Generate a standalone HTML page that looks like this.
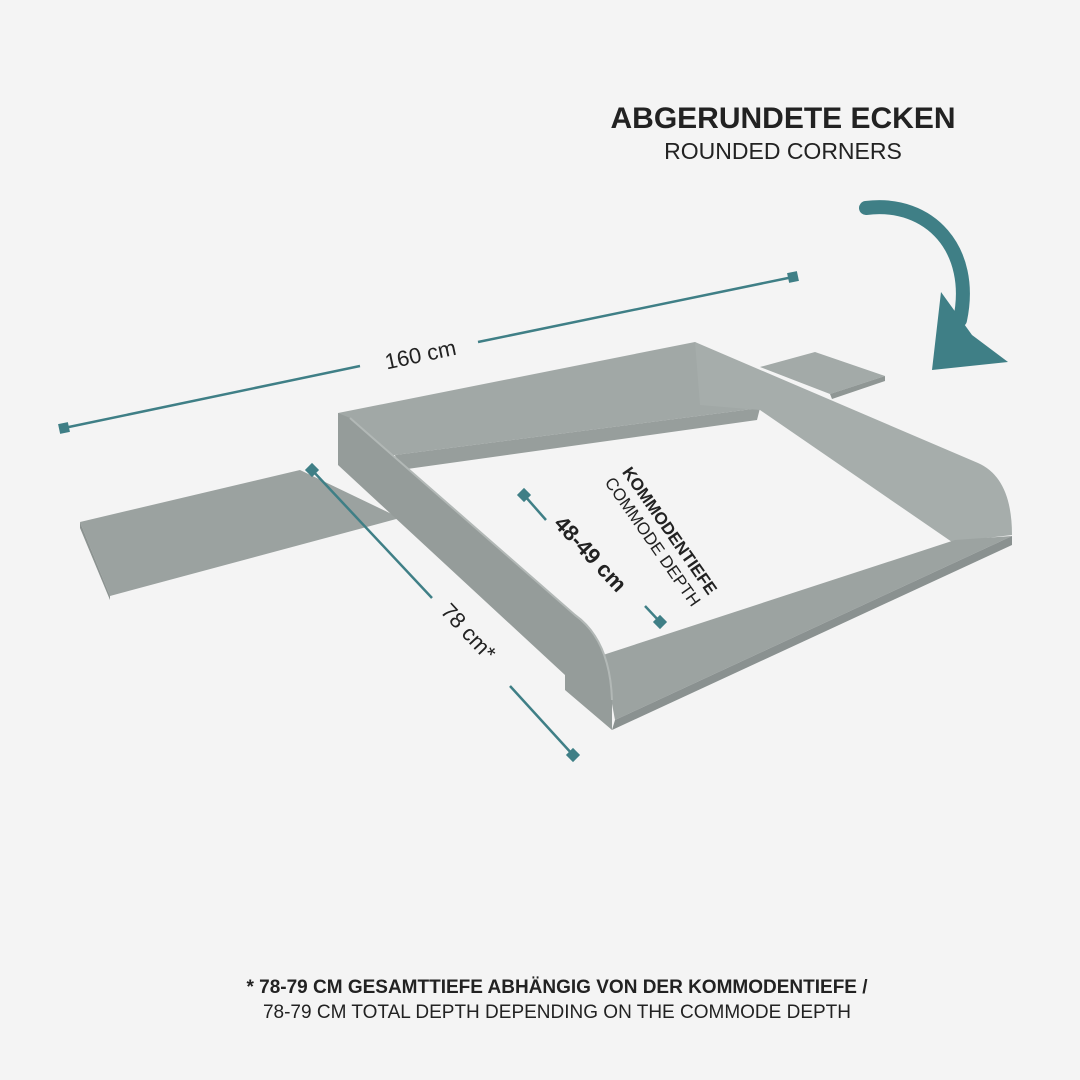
<!DOCTYPE html>
<html><head><meta charset="utf-8"><style>
html,body{margin:0;padding:0;background:#f4f4f4;}
svg{display:block;font-family:"Liberation Sans",sans-serif;}
</style></head><body>
<svg width="1080" height="1080" viewBox="0 0 1080 1080" xmlns="http://www.w3.org/2000/svg">
<rect width="1080" height="1080" fill="#f4f4f4"/>
<text x="783" y="128" text-anchor="middle" font-size="30" font-weight="bold" fill="#222">ABGERUNDETE ECKEN</text>
<text x="783" y="159" text-anchor="middle" font-size="23" fill="#222">ROUNDED CORNERS</text>
<path d="M866 208 C930 200 975 250 960 320" fill="none" stroke="#3f7f86" stroke-width="14" stroke-linecap="round"/>
<polygon points="932,370 941,292 972,335 1008,362" fill="#3f7f86"/>
<polygon points="80,522 300,470 400,518 110,596" fill="#9ba2a0"/>
<polygon points="80,522 110,596 110,600 80,528" fill="#8c9391"/>
<polygon points="760,367 815,352 885,376 830,394" fill="#a3aaa8"/>
<polygon points="830,394 885,376 885,381 832,399" fill="#8f9694"/>
<polygon points="338,413 695,342 700,345 760,408 395,455 338,465" fill="#a1a8a6"/>
<polygon points="395,455 760,408 757,420 400,470" fill="#979e9c"/>
<path d="M695,342 L978,463 Q1012,478 1012,535 L952,542 L760,410 L700,405 Z" fill="#a6adab"/>
<polygon points="603,655 955,540 1012,536 615,720" fill="#9ca3a1"/>
<polygon points="615,720 1012,536 1012,545 612,730" fill="#8a9190"/>
<path d="M338,413 L350,418 L575,615 Q610,640 612,700 L612,730 L565,690 L565,675 L338,465 Z" fill="#959c9a"/>
<path d="M350,418 L575,615 Q610,640 612,700" fill="none" stroke="#b2b8b6" stroke-width="2"/>
<g stroke="#3f7f86" stroke-width="2.5" fill="none">
<line x1="64" y1="428" x2="360" y2="366"/>
<line x1="478" y1="342" x2="793" y2="277"/>
<line x1="312" y1="470" x2="432" y2="598"/>
<line x1="510" y1="686" x2="573" y2="755"/>
<line x1="524" y1="495" x2="546" y2="520"/>
<line x1="645" y1="606" x2="660" y2="622"/>
</g>
<g fill="#3f7f86">
<rect x="59" y="423" width="10" height="10" transform="rotate(-12 64 428)"/>
<rect x="788" y="272" width="10" height="10" transform="rotate(-12 793 277)"/>
<rect x="307" y="465" width="10" height="10" transform="rotate(45 312 470)"/>
<rect x="568" y="750" width="10" height="10" transform="rotate(45 573 755)"/>
<rect x="519" y="490" width="10" height="10" transform="rotate(45 524 495)"/>
<rect x="655" y="617" width="10" height="10" transform="rotate(45 660 622)"/>
</g>
<text transform="translate(422,362) rotate(-12)" text-anchor="middle" font-size="22" fill="#222">160 cm</text>
<text transform="translate(463,637) rotate(47)" text-anchor="middle" font-size="22" fill="#222">78 cm*</text>
<text transform="translate(585,559) rotate(47)" text-anchor="middle" font-size="22" font-weight="bold" fill="#222">48-49 cm</text>
<text transform="translate(665,534) rotate(55)" text-anchor="middle" font-size="17" font-weight="bold" fill="#222">KOMMODENTIEFE</text>
<text transform="translate(648,545) rotate(55)" text-anchor="middle" font-size="17" fill="#222">COMMODE DEPTH</text>
<text x="557" y="993" text-anchor="middle" font-size="19" font-weight="bold" fill="#222">* 78-79 CM GESAMTTIEFE ABHÄNGIG VON DER KOMMODENTIEFE /</text>
<text x="557" y="1018" text-anchor="middle" font-size="19" fill="#222">78-79 CM TOTAL DEPTH DEPENDING ON THE COMMODE DEPTH</text>
</svg>
</body></html>
